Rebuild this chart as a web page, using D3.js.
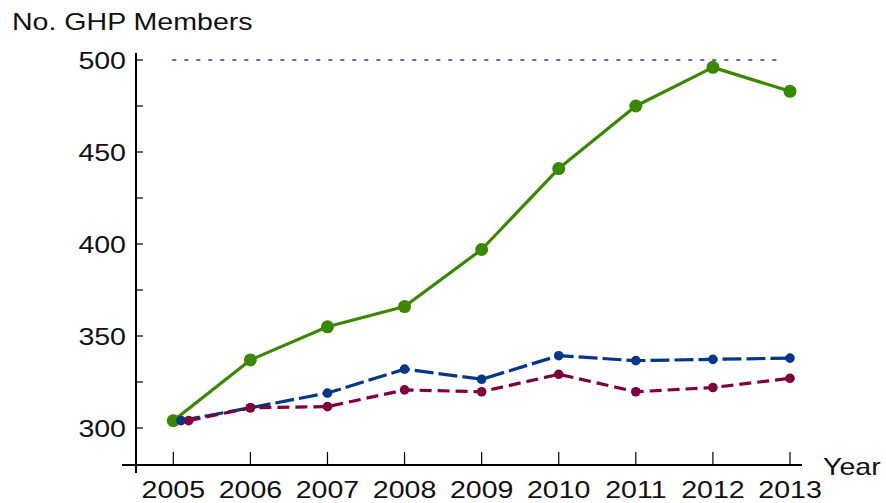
<!DOCTYPE html>
<html><head><meta charset="utf-8">
<script src="https://cdn.jsdelivr.net/npm/d3@7"></script>
<style>body{margin:0;background:#fff}svg{display:block}text{font-family:"Liberation Sans",Arial,sans-serif;fill:#111}</style>
</head><body><svg id="c" width="886" height="503"></svg>
<script>
const years = [2005,2006,2007,2008,2009,2010,2011,2012,2013];
const greenYears = [2005,2006,2007,2008,2009,2010,2011,2012,2013];
const greenValues = [304,337,355,366,397,441,475,496,483];
const blueYears = [2005.1,2006,2007,2008,2009,2010,2011,2012,2013];
const blueValues = [304,311,319,332,326.5,339.3,336.6,337.3,338];
const redYears = [2005.2,2006,2007,2008,2009,2010,2011,2012,2013];
const redValues = [304,311,311.6,320.7,319.7,329.2,319.7,322,327];
const yTicks = [300,350,400,450,500];
const yMinorTicks = [325,375,425,475];
const refLine = 500;

const svg = d3.select("#c");
const x = d3.scaleLinear().domain([2005,2013]).range([173.3,790]);
const y = d3.scaleLinear().domain([300,500]).range([428,60]);
const SX = 1.19;

function label(px, py, txt, anchor){
  return svg.append("text").attr("transform",`translate(${px},${py}) scale(${SX},1)`)
    .attr("text-anchor",anchor||"start").attr("font-size",24).text(txt);
}

// axes
const xAxisY = 465, yAxisX = 136;
const g = svg.append("g");
g.append("line").attr("x1",122).attr("x2",802).attr("y1",xAxisY).attr("y2",xAxisY).attr("stroke","#000").attr("stroke-width",2);
g.append("line").attr("x1",yAxisX).attr("x2",yAxisX).attr("y1",53).attr("y2",473).attr("stroke","#000").attr("stroke-width",2);
years.forEach(v=>{
  g.append("line").attr("x1",x(v)).attr("x2",x(v)).attr("y1",xAxisY).attr("y2",xAxisY-13).attr("stroke","#000").attr("stroke-width",1.2);
  label(x(v),498,v,"middle");
});
yTicks.forEach(v=>{
  g.append("line").attr("x1",yAxisX).attr("x2",yAxisX+7).attr("y1",y(v)).attr("y2",y(v)).attr("stroke","#000").attr("stroke-width",1.2);
  label(126,y(v)+8.5,v,"end");
});
yMinorTicks.forEach(v=>{
  g.append("line").attr("x1",yAxisX).attr("x2",yAxisX+7).attr("y1",y(v)).attr("y2",y(v)).attr("stroke","#000").attr("stroke-width",1.2);
});
label(12,30,"No. GHP Members","start");
label(823,475,"Year","start");

// reference line
svg.append("line").attr("x1",x(2005)-1).attr("x2",782).attr("y1",y(refLine)).attr("y2",y(refLine))
  .attr("stroke","#2e2ec0").attr("stroke-width",1.3).attr("stroke-dasharray","4,8");

const line = d3.line().x(d=>x(d[0])).y(d=>y(d[1]));
function series(xs, vs, color, width, dash, r){
  const pts = xs.map((v,i)=>[v,vs[i]]);
  svg.append("path").attr("d",line(pts)).attr("fill","none").attr("stroke",color)
    .attr("stroke-width",width).attr("stroke-dasharray",dash).attr("stroke-linejoin","round");
  svg.selectAll(null).data(pts).enter().append("circle")
    .attr("cx",d=>x(d[0])).attr("cy",d=>y(d[1])).attr("r",r).attr("fill",color);
}
series(greenYears, greenValues, "#3a8700", 3.2, null, 6.5);
series(blueYears, blueValues, "#00378a", 3.2, "19,5", 4.8);
series(redYears, redValues, "#7e003c", 3.2, "12,6", 4.8);
</script></body></html>
